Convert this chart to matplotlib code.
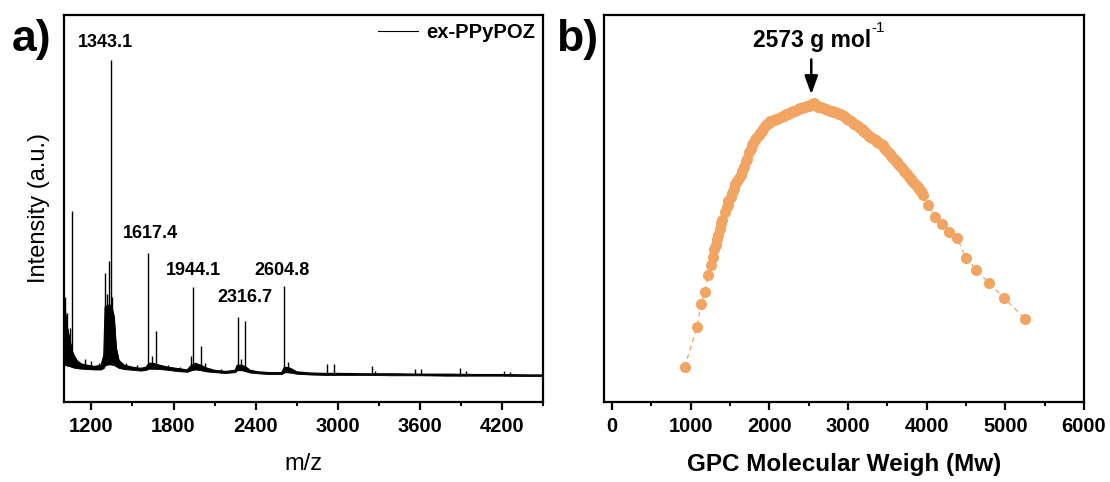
import numpy as np
import matplotlib
matplotlib.use('Agg')
import matplotlib.pyplot as plt
from matplotlib.ticker import MultipleLocator

plt.rcParams['font.family'] = ['Liberation Sans', 'DejaVu Sans']

# ---- panel a: MALDI spectrum (envelope of dense noise + sharp peaks) ----
spec_mz = [1000, 1005, 1015, 1030, 1045, 1060, 1080, 1100, 1130, 1170, 1220, 1270,
           1290, 1300, 1320, 1345, 1365, 1380, 1400, 1440, 1500, 1560, 1600, 1620,
           1650, 1700, 1760, 1820, 1900, 1930, 1960, 2000, 2040, 2100, 2180, 2250,
           2265, 2300, 2330, 2360, 2420, 2500, 2590, 2610, 2650, 2700, 2800, 2900,
           3000, 3200, 3400, 3600, 3800, 4000, 4200, 4400, 4500]
spec_hi = [0.26, 0.25, 0.21, 0.18, 0.155, 0.13, 0.115, 0.105, 0.098, 0.095, 0.092, 0.095,
           0.12, 0.245, 0.25, 0.25, 0.22, 0.14, 0.108, 0.095, 0.090, 0.087, 0.090, 0.100,
           0.100, 0.095, 0.090, 0.087, 0.083, 0.095, 0.100, 0.095, 0.088, 0.082, 0.079, 0.082,
           0.095, 0.095, 0.090, 0.082, 0.078, 0.076, 0.076, 0.090, 0.088, 0.078, 0.075, 0.074,
           0.074, 0.073, 0.073, 0.072, 0.072, 0.071, 0.071, 0.070, 0.070]
spec_lo = [0.095, 0.095, 0.095, 0.093, 0.092, 0.090, 0.088, 0.087, 0.086, 0.085, 0.084, 0.084,
           0.088, 0.095, 0.097, 0.097, 0.095, 0.092, 0.088, 0.085, 0.083, 0.081, 0.083, 0.086,
           0.086, 0.085, 0.083, 0.080, 0.078, 0.082, 0.084, 0.082, 0.079, 0.077, 0.075, 0.077,
           0.082, 0.082, 0.079, 0.076, 0.074, 0.072, 0.072, 0.077, 0.076, 0.073, 0.071, 0.070,
           0.070, 0.070, 0.069, 0.069, 0.068, 0.068, 0.068, 0.067, 0.067]

peak_mz = [1006, 1020, 1040, 1056, 1150, 1195, 1255, 1300, 1312, 1330, 1343, 1352,
           1450, 1530, 1617, 1640, 1672, 1760, 1850, 1930, 1944, 1998, 2030, 2150,
           2273, 2290, 2322, 2604, 2640, 2919, 2972, 3248, 3275, 3564, 3612, 3893,
           3935, 4214, 4258]
peak_int = [0.27, 0.23, 0.19, 0.493, 0.11, 0.105, 0.10, 0.332, 0.28, 0.363, 0.884, 0.27,
            0.10, 0.095, 0.386, 0.12, 0.184, 0.095, 0.09, 0.12, 0.296, 0.144, 0.10, 0.085,
            0.219, 0.11, 0.21, 0.299, 0.103, 0.098, 0.098, 0.094, 0.08, 0.085, 0.084, 0.087,
            0.08, 0.081, 0.078]

label_text = ['1343.1', '1617.4', '1944.1', '2316.7', '2604.8']
label_mz = [1300, 1628, 1942, 2322, 2592]
label_y = [0.928, 0.435, 0.341, 0.269, 0.341]

# ---- panel b: GPC distribution ----
gpc_mw = [926, 1082, 1135, 1180, 1224, 1260, 1286, 1304, 1318, 1335, 1349, 1371,
          1393, 1402, 1438, 1460, 1473, 1482, 1509, 1527, 1549, 1571, 1593, 1616,
          1638, 1660, 1674, 1705, 1714, 1749, 1767, 1785, 1794, 1825, 1838, 1865,
          1883, 1905, 1927, 1950, 1972, 1994, 2016, 2038, 2061, 2083, 2105, 2128,
          2150, 2172, 2194, 2217, 2240, 2262, 2283, 2306, 2330, 2350, 2372, 2395,
          2420, 2440, 2461, 2480, 2500, 2515, 2528, 2550, 2573, 2590, 2610, 2625,
          2639, 2662, 2685, 2705, 2728, 2750, 2770, 2795, 2817, 2840, 2860, 2885,
          2906, 2930, 2950, 2972, 2995, 3018, 3040, 3062, 3084, 3108, 3130, 3152,
          3174, 3196, 3220, 3240, 3263, 3286, 3310, 3330, 3352, 3375, 3400, 3420,
          3441, 3463, 3485, 3508, 3530, 3552, 3575, 3597, 3619, 3642, 3665, 3686,
          3708, 3730, 3750, 3775, 3797, 3820, 3840, 3863, 3886, 3905, 3925, 3945,
          3961, 4019, 4108, 4197, 4286, 4389, 4500, 4633, 4789, 4985, 5252]
gpc_int = [0.090, 0.194, 0.254, 0.284, 0.327, 0.353, 0.374, 0.395, 0.405, 0.420, 0.432, 0.448,
           0.462, 0.469, 0.491, 0.503, 0.510, 0.518, 0.529, 0.541, 0.551, 0.562, 0.570, 0.579,
           0.587, 0.598, 0.607, 0.622, 0.628, 0.645, 0.654, 0.663, 0.668, 0.677, 0.682, 0.690,
           0.694, 0.701, 0.706, 0.713, 0.717, 0.722, 0.725, 0.727, 0.728, 0.730, 0.731, 0.734,
           0.736, 0.738, 0.740, 0.743, 0.745, 0.747, 0.749, 0.751, 0.753, 0.755, 0.757, 0.759,
           0.760, 0.762, 0.763, 0.765, 0.766, 0.767, 0.768, 0.770, 0.772, 0.768, 0.765, 0.763,
           0.762, 0.761, 0.760, 0.758, 0.757, 0.755, 0.753, 0.751, 0.749, 0.748, 0.747, 0.745,
           0.744, 0.741, 0.738, 0.734, 0.731, 0.728, 0.725, 0.722, 0.719, 0.715, 0.712, 0.709,
           0.706, 0.701, 0.697, 0.692, 0.688, 0.685, 0.682, 0.679, 0.676, 0.673, 0.670, 0.667,
           0.663, 0.657, 0.652, 0.647, 0.641, 0.636, 0.631, 0.626, 0.620, 0.614, 0.609, 0.604,
           0.598, 0.593, 0.588, 0.582, 0.577, 0.572, 0.566, 0.561, 0.555, 0.550, 0.545, 0.540,
           0.534, 0.508, 0.479, 0.460, 0.439, 0.424, 0.372, 0.342, 0.308, 0.269, 0.215]
orange = '#F2A462'


def style_axis(ax, major, minor):
    for s in ax.spines.values():
        s.set_linewidth(1.6)
    ax.xaxis.set_major_locator(MultipleLocator(major))
    ax.xaxis.set_minor_locator(MultipleLocator(minor))
    ax.tick_params(axis='x', which='major', direction='out', length=6, width=1.6,
                   labelsize=14.5, pad=5)
    ax.tick_params(axis='x', which='minor', direction='out', length=3, width=1.4)
    ax.set_yticks([])
    for lab in ax.get_xticklabels():
        lab.set_fontweight('bold')


fig = plt.figure(figsize=(11.1, 4.82), dpi=100)
ax1 = fig.add_axes([0.0577, 0.166, 0.4315, 0.803])
ax2 = fig.add_axes([0.5441, 0.166, 0.4324, 0.803])

# panel a
ax1.fill_between(spec_mz, spec_lo, spec_hi, color='black', lw=0.6)
ax1.plot(spec_mz, spec_hi, color='black', lw=0.8, label='ex-PPyPOZ')
pk_base = np.interp(peak_mz, spec_mz, spec_lo)
ax1.vlines(peak_mz, pk_base, peak_int, color='black', lw=1.0)
for t, x, y in zip(label_text, label_mz, label_y):
    ax1.text(x, y, t, ha='center', va='center', fontsize=13, fontweight='bold')
ax1.set_xlim(1000, 4500)
ax1.set_ylim(0, 1)
style_axis(ax1, 600, 300)
ax1.set_xlabel('m/z', fontsize=17, labelpad=12)
ax1.set_ylabel('Intensity (a.u.)', fontsize=17, labelpad=10)
ax1.legend(loc='upper right', frameon=False, handlelength=2.0,
           handletextpad=0.4, borderaxespad=0.2, borderpad=0.2,
           prop={'weight': 'bold', 'size': 14.5})
fig.text(0.011, 0.895, 'a)', fontsize=32, fontweight='bold')

# panel b
ax2.plot(gpc_mw, gpc_int, color=orange, lw=0.9, ls=(0, (4, 3)),
         marker='o', markersize=8, markeredgewidth=0)
ax2.set_xlim(-100, 6000)
ax2.set_ylim(0, 1)
style_axis(ax2, 1000, 500)
ax2.set_xlabel('GPC Molecular Weigh (Mw)', fontsize=17.5, fontweight='bold', labelpad=12)
ax2.annotate('', xy=(2535, 0.795), xytext=(2535, 0.885),
             arrowprops=dict(arrowstyle='-|>,head_length=1.1,head_width=0.4',
                             color='black', lw=1.8, shrinkA=0, shrinkB=0))
mw_txt = ax2.text(2548, 0.935, '2573 g mol', ha='center', va='center',
                  fontsize=16.5, fontweight='bold')
ax2.annotate('-1', xy=(1.0, 0.72), xycoords=mw_txt, ha='left', va='bottom',
             fontsize=11)
fig.text(0.501, 0.895, 'b)', fontsize=32, fontweight='bold')

fig.savefig('out.png', dpi=100)
